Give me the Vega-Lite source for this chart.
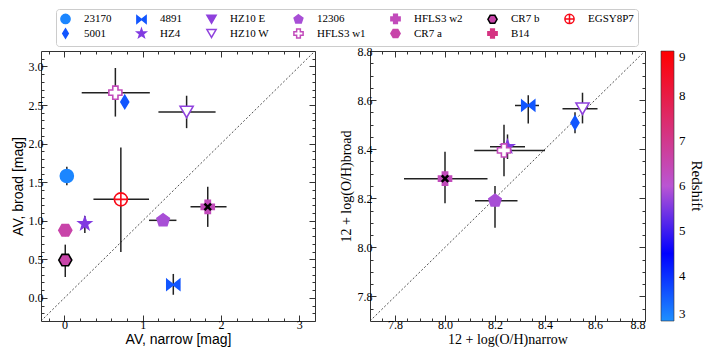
{
  "$schema": "https://vega.github.io/schema/vega-lite/v6.json",
  "padding": {"left": 10, "top": 8, "right": 0, "bottom": 0},
  "background": "white",
  "datasets": {
    "pts": [
      {"name": "23170", "z": 3.1, "an": 0.03, "ab": 1.58, "ab_lo": 1.46, "ab_hi": 1.70},
      {"name": "5001", "z": 3.6, "an": 0.77, "ab": 2.54, "on": 8.52, "ob": 8.508, "ob_lo": 8.465, "ob_hi": 8.55},
      {"name": "4891", "z": 3.7, "an": 1.39, "ab": 0.17, "ab_lo": 0.04, "ab_hi": 0.31, "on": 8.333, "on_lo": 8.28, "on_hi": 8.376, "ob": 8.578, "ob_lo": 8.505, "ob_hi": 8.62},
      {"name": "HZ4", "z": 5.54, "an": 0.26, "ab": 0.96, "ab_lo": 0.84, "ab_hi": 1.06, "on": 8.25, "on_lo": 8.18, "on_hi": 8.32, "ob": 8.41, "ob_lo": 8.36, "ob_hi": 8.46},
      {"name": "HZ10 W", "z": 5.65, "an": 1.56, "an_lo": 1.2, "an_hi": 1.93, "ab": 2.41, "ab_lo": 2.2, "ab_hi": 2.62, "on": 8.55, "on_lo": 8.47, "on_hi": 8.61, "ob": 8.565, "ob_lo": 8.505, "ob_hi": 8.63},
      {"name": "12306", "z": 5.9, "an": 1.26, "an_lo": 1.08, "an_hi": 1.43, "ab": 1.005, "on": 8.2, "on_lo": 8.12, "on_hi": 8.29, "ob": 8.19, "ob_lo": 8.08, "ob_hi": 8.25},
      {"name": "HFLS3 w1", "z": 6.34, "an": 0.65, "an_lo": 0.22, "an_hi": 1.09, "ab": 2.66, "ab_lo": 2.35, "ab_hi": 2.98, "on": 8.236, "on_lo": 8.117, "on_hi": 8.4, "ob": 8.395, "ob_lo": 8.29, "ob_hi": 8.5},
      {"name": "HFLS3 w2", "z": 6.34, "an": 1.83, "an_lo": 1.61, "an_hi": 2.07, "ab": 1.18, "ab_lo": 0.92, "ab_hi": 1.44, "on": 8.0, "on_lo": 7.836, "on_hi": 8.17, "ob": 8.28, "ob_lo": 8.18, "ob_hi": 8.39},
      {"name": "CR7 a", "z": 6.6, "an": 0.01, "ab": 0.876, "ab_lo": 0.8, "ab_hi": 0.95},
      {"name": "CR7 b", "z": 6.6, "an": 0.01, "ab": 0.49, "ab_lo": 0.27, "ab_hi": 0.69},
      {"name": "EGSY8P7", "z": 8.68, "an": 0.72, "an_lo": 0.37, "an_hi": 1.08, "ab": 1.277, "ab_lo": 0.595, "ab_hi": 1.95}
    ]
  },
  "hconcat": [
    {
      "width": 274,
      "height": 270,
      "layer": [
        {
          "data": {"values": [{"d": -0.3}, {"d": 3.2}]},
          "mark": {"type": "line", "color": "#222", "strokeWidth": 0.8, "strokeDash": [2, 2]},
          "encoding": {
            "x": {"field": "d", "type": "quantitative", "scale": {"domain": [-0.3, 3.2], "nice": false, "zero": false},
              "axis": {"orient": "bottom", "values": [0, 1, 2, 3], "tickSize": -6, "domain": false, "title": "AV, narrow [mag]", "titleFont": "Liberation Sans", "titleFontSize": 14, "labelPadding": 4, "titlePadding": 2}},
            "y": {"field": "d", "type": "quantitative", "scale": {"domain": [-0.3, 3.2], "nice": false, "zero": false},
              "axis": {"orient": "left", "values": [0, 0.5, 1, 1.5, 2, 2.5, 3], "format": ".1f", "tickSize": -6, "domain": false, "title": "AV, broad [mag]", "titleFont": "Liberation Sans", "titleFontSize": 14, "labelPadding": 4, "titlePadding": 3}}
          }
        },
        {
          "data": {"name": "pts"},
          "transform": [{"filter": "isValid(datum.an_lo)"}],
          "mark": {"type": "rule", "color": "#222", "strokeWidth": 1.5},
          "encoding": {
            "x": {"field": "an_lo", "type": "quantitative", "scale": {"domain": [-0.3, 3.2], "nice": false, "zero": false},
              "axis": {"orient": "bottom", "values": [-0.2, 0.2, 0.4, 0.6, 0.8, 1.2, 1.4, 1.6, 1.8, 2.2, 2.4, 2.6, 2.8, 3.2], "tickSize": -3, "labels": false, "domain": false, "title": null}},
            "x2": {"field": "an_hi"},
            "y": {"field": "ab", "type": "quantitative", "scale": {"domain": [-0.3, 3.2], "nice": false, "zero": false},
              "axis": {"orient": "left", "values": [-0.2, -0.1, 0.1, 0.2, 0.3, 0.4, 0.6, 0.7, 0.8, 0.9, 1.1, 1.2, 1.3, 1.4, 1.6, 1.7, 1.8, 1.9, 2.1, 2.2, 2.3, 2.4, 2.6, 2.7, 2.8, 2.9, 3.1], "tickSize": -3, "labels": false, "domain": false, "title": null}}
          }
        },
        {
          "data": {"name": "pts"},
          "transform": [{"filter": "isValid(datum.ab_lo)"}],
          "mark": {"type": "rule", "color": "#222", "strokeWidth": 1.5},
          "encoding": {
            "x": {"field": "an", "type": "quantitative", "scale": {"domain": [-0.3, 3.2], "nice": false, "zero": false},
              "axis": {"orient": "top", "values": [0, 1, 2, 3], "tickSize": -6, "labels": false, "domain": false, "title": null}},
            "y": {"field": "ab_lo", "type": "quantitative", "scale": {"domain": [-0.3, 3.2], "nice": false, "zero": false},
              "axis": {"orient": "right", "values": [0, 0.5, 1, 1.5, 2, 2.5, 3], "tickSize": -6, "labels": false, "domain": false, "title": null}},
            "y2": {"field": "ab_hi"}
          }
        },
        {
          "data": {"name": "pts"},
          "transform": [{"filter": "isValid(datum.an)"}],
          "mark": {"type": "point", "size": 170, "strokeWidth": 1.6, "opacity": 1, "filled": false},
          "encoding": {
            "x": {"field": "an", "type": "quantitative", "scale": {"domain": [-0.3, 3.2], "nice": false, "zero": false},
              "axis": {"orient": "top", "values": [-0.2, 0.2, 0.4, 0.6, 0.8, 1.2, 1.4, 1.6, 1.8, 2.2, 2.4, 2.6, 2.8, 3.2], "tickSize": -3, "labels": false, "domain": false, "title": null}},
            "y": {"field": "ab", "type": "quantitative", "scale": {"domain": [-0.3, 3.2], "nice": false, "zero": false},
              "axis": {"orient": "right", "values": [-0.2, -0.1, 0.1, 0.2, 0.3, 0.4, 0.6, 0.7, 0.8, 0.9, 1.1, 1.2, 1.3, 1.4, 1.6, 1.7, 1.8, 1.9, 2.1, 2.2, 2.3, 2.4, 2.6, 2.7, 2.8, 2.9, 3.1], "tickSize": -3, "labels": false, "domain": false, "title": null}},
            "shape": {"field": "name", "type": "nominal",
              "scale": {"domain": ["23170", "5001", "4891", "HZ4", "HZ10 E", "HZ10 W", "12306", "HFLS3 w1", "HFLS3 w2", "CR7 a", "CR7 b", "B14", "EGSY8P7"],
                "range": ["circle", "M0,-1L0.6,0L0,1L-0.6,0Z", "M-1,-0.8L1,0.8L1,-0.8L-1,0.8Z", "M0,-1L0.235,-0.324L0.951,-0.309L0.38,0.124L0.588,0.809L0,0.4L-0.588,0.809L-0.38,0.124L-0.951,-0.309L-0.235,-0.324Z", "triangle-down", "triangle-down", "M0,-1L0.951,-0.309L0.588,0.809L-0.588,0.809L-0.951,-0.309Z", "cross", "cross", "M-1,0L-0.5,-0.866L0.5,-0.866L1,0L0.5,0.866L-0.5,0.866Z", "M-1,0L-0.5,-0.866L0.5,-0.866L1,0L0.5,0.866L-0.5,0.866Z", "cross", "M-1,0A1,1,0,1,1,1,0A1,1,0,1,1,-1,0ZM-1,0L1,0M0,-1L0,1"]},
              "legend": {"orient": "none", "legendX": 15, "legendY": -42, "columns": 7, "title": null, "symbolSize": 85, "symbolStrokeWidth": 1.5, "labelFont": "Liberation Serif", "labelFontSize": 11, "labelColor": "black", "columnPadding": 21, "rowPadding": -2, "labelOffset": 13, "strokeColor": "#ccc", "cornerRadius": 3, "padding": 4, "fillColor": "white",
                "encode": {"symbols": {"update": {"size": {"value": 85}}}}}},
            "fill": {"field": "name", "type": "nominal",
              "scale": {"domain": ["23170", "5001", "4891", "HZ4", "HZ10 E", "HZ10 W", "12306", "HFLS3 w1", "HFLS3 w2", "CR7 a", "CR7 b", "B14", "EGSY8P7"],
                "range": ["#1c86ff", "#1256ff", "#1256ff", "#813be1", "#8f41dd", "white", "#a84fd6", "white", "#c24bbb", "#c844a9", "#c844a9", "#d53482", "white"]}},
            "stroke": {"field": "name", "type": "nominal",
              "scale": {"domain": ["23170", "5001", "4891", "HZ4", "HZ10 E", "HZ10 W", "12306", "HFLS3 w1", "HFLS3 w2", "CR7 a", "CR7 b", "B14", "EGSY8P7"],
                "range": ["#1c86ff", "#1256ff", "#1256ff", "#813be1", "#8f41dd", "#8f41dd", "#a84fd6", "#c24bbb", "#c24bbb", "#c844a9", "black", "#d53482", "#f80917"]}}
          }
        },
        {
          "data": {"name": "pts"},
          "transform": [{"filter": "datum.name === 'HFLS3 w2'"}],
          "mark": {"type": "point", "size": 170, "strokeWidth": 2.5, "opacity": 1, "filled": false, "color": "black", "shape": "M-0.5,-0.5L0.5,0.5M-0.5,0.5L0.5,-0.5"},
          "encoding": {
            "x": {"field": "an", "type": "quantitative", "scale": {"domain": [-0.3, 3.2], "nice": false, "zero": false}, "axis": null},
            "y": {"field": "ab", "type": "quantitative", "scale": {"domain": [-0.3, 3.2], "nice": false, "zero": false}, "axis": null}
          }
        }
      ],
      "resolve": {"axis": {"x": "independent", "y": "independent"}}
    },
    {
      "width": 275,
      "height": 270,
      "layer": [
        {
          "data": {"values": [{"d": 7.7}, {"d": 8.8}]},
          "mark": {"type": "line", "color": "#222", "strokeWidth": 0.8, "strokeDash": [2, 2]},
          "encoding": {
            "x": {"field": "d", "type": "quantitative", "scale": {"domain": [7.7, 8.8], "nice": false, "zero": false},
              "axis": {"orient": "bottom", "values": [7.8, 8.0, 8.2, 8.4, 8.6, 8.8], "format": ".1f", "tickSize": -6, "domain": false, "title": "12 + log(O/H)narrow", "titleFontSize": 14, "labelPadding": 4, "titlePadding": 2}},
            "y": {"field": "d", "type": "quantitative", "scale": {"domain": [7.7, 8.8], "nice": false, "zero": false},
              "axis": {"orient": "left", "values": [7.8, 8.0, 8.2, 8.4, 8.6, 8.8], "format": ".1f", "tickSize": -6, "domain": false, "title": "12 + log(O/H)broad", "titleFontSize": 14, "labelPadding": 4, "titlePadding": 4}}
          }
        },
        {
          "data": {"name": "pts"},
          "transform": [{"filter": "isValid(datum.on_lo)"}],
          "mark": {"type": "rule", "color": "#222", "strokeWidth": 1.5},
          "encoding": {
            "x": {"field": "on_lo", "type": "quantitative", "scale": {"domain": [7.7, 8.8], "nice": false, "zero": false},
              "axis": {"orient": "bottom", "values": [7.75, 7.85, 7.9, 7.95, 8.05, 8.1, 8.15, 8.25, 8.3, 8.35, 8.45, 8.5, 8.55, 8.65, 8.7, 8.75], "tickSize": -3, "labels": false, "domain": false, "title": null}},
            "x2": {"field": "on_hi"},
            "y": {"field": "ob", "type": "quantitative", "scale": {"domain": [7.7, 8.8], "nice": false, "zero": false},
              "axis": {"orient": "left", "values": [7.75, 7.85, 7.9, 7.95, 8.05, 8.1, 8.15, 8.25, 8.3, 8.35, 8.45, 8.5, 8.55, 8.65, 8.7, 8.75], "tickSize": -3, "labels": false, "domain": false, "title": null}}
          }
        },
        {
          "data": {"name": "pts"},
          "transform": [{"filter": "isValid(datum.ob_lo)"}],
          "mark": {"type": "rule", "color": "#222", "strokeWidth": 1.5},
          "encoding": {
            "x": {"field": "on", "type": "quantitative", "scale": {"domain": [7.7, 8.8], "nice": false, "zero": false},
              "axis": {"orient": "top", "values": [7.8, 8.0, 8.2, 8.4, 8.6, 8.8], "tickSize": -6, "labels": false, "domain": false, "title": null}},
            "y": {"field": "ob_lo", "type": "quantitative", "scale": {"domain": [7.7, 8.8], "nice": false, "zero": false},
              "axis": {"orient": "right", "values": [7.8, 8.0, 8.2, 8.4, 8.6, 8.8], "tickSize": -6, "labels": false, "domain": false, "title": null}},
            "y2": {"field": "ob_hi"}
          }
        },
        {
          "data": {"name": "pts"},
          "transform": [{"filter": "isValid(datum.on)"}],
          "mark": {"type": "point", "size": 170, "strokeWidth": 1.6, "opacity": 1, "filled": false},
          "encoding": {
            "x": {"field": "on", "type": "quantitative", "scale": {"domain": [7.7, 8.8], "nice": false, "zero": false},
              "axis": {"orient": "top", "values": [7.75, 7.85, 7.9, 7.95, 8.05, 8.1, 8.15, 8.25, 8.3, 8.35, 8.45, 8.5, 8.55, 8.65, 8.7, 8.75], "tickSize": -3, "labels": false, "domain": false, "title": null}},
            "y": {"field": "ob", "type": "quantitative", "scale": {"domain": [7.7, 8.8], "nice": false, "zero": false},
              "axis": {"orient": "right", "values": [7.75, 7.85, 7.9, 7.95, 8.05, 8.1, 8.15, 8.25, 8.3, 8.35, 8.45, 8.5, 8.55, 8.65, 8.7, 8.75], "tickSize": -3, "labels": false, "domain": false, "title": null}},
            "shape": {"field": "name", "type": "nominal"},
            "fill": {"field": "name", "type": "nominal"},
            "stroke": {"field": "name", "type": "nominal"}
          }
        },
        {
          "data": {"name": "pts"},
          "transform": [{"filter": "datum.name === 'HFLS3 w2'"}],
          "mark": {"type": "point", "size": 170, "strokeWidth": 2.5, "opacity": 1, "filled": false, "color": "black", "shape": "M-0.5,-0.5L0.5,0.5M-0.5,0.5L0.5,-0.5"},
          "encoding": {
            "x": {"field": "on", "type": "quantitative", "scale": {"domain": [7.7, 8.8], "nice": false, "zero": false}, "axis": null},
            "y": {"field": "ob", "type": "quantitative", "scale": {"domain": [7.7, 8.8], "nice": false, "zero": false}, "axis": null}
          }
        },
        {
          "data": {"name": "pts"},
          "transform": [{"filter": "isValid(datum.on)"}],
          "mark": {"type": "point", "opacity": 0, "size": 10},
          "encoding": {
            "x": {"field": "on", "type": "quantitative", "scale": {"domain": [7.7, 8.8], "nice": false, "zero": false}, "axis": null},
            "y": {"field": "ob", "type": "quantitative", "scale": {"domain": [7.7, 8.8], "nice": false, "zero": false}, "axis": null},
            "color": {"field": "z", "type": "quantitative",
              "scale": {"type": "linear", "domain": [3, 4.5, 6, 9], "range": ["#1e90ff", "#0000ff", "#ba55d3", "#ff0000"], "interpolate": "rgb"},
              "legend": {"orient": "none", "legendX": 620, "legendY": 0, "direction": "vertical", "gradientLength": 270, "gradientThickness": 13, "values": [3, 4, 5, 6, 7, 8, 9], "title": "Redshift", "titleOrient": "right", "titleAngle": 90, "titleFont": "Liberation Serif", "titleFontSize": 15, "titleFontWeight": "normal", "titleColor": "black", "titleAnchor": "middle", "titleBaseline": "bottom", "titlePadding": 3, "labelFont": "Liberation Serif", "labelFontSize": 13, "labelColor": "black", "labelOffset": 5, "labelBaseline": "middle", "gradientStrokeColor": "#333", "gradientStrokeWidth": 0.6}}
          }
        }
      ],
      "resolve": {"axis": {"x": "independent", "y": "independent"}}
    }
  ],
  "spacing": 55,
  "bounds": "flush",
  "config": {
    "view": {"stroke": "#333", "strokeWidth": 1},
    "axis": {"grid": false, "tickColor": "#333", "tickWidth": 1, "labelFont": "Liberation Serif", "labelFontSize": 12, "labelColor": "black", "titleFont": "Liberation Serif", "titleFontSize": 13, "titleColor": "black", "titleFontWeight": "normal"}
  }
}
